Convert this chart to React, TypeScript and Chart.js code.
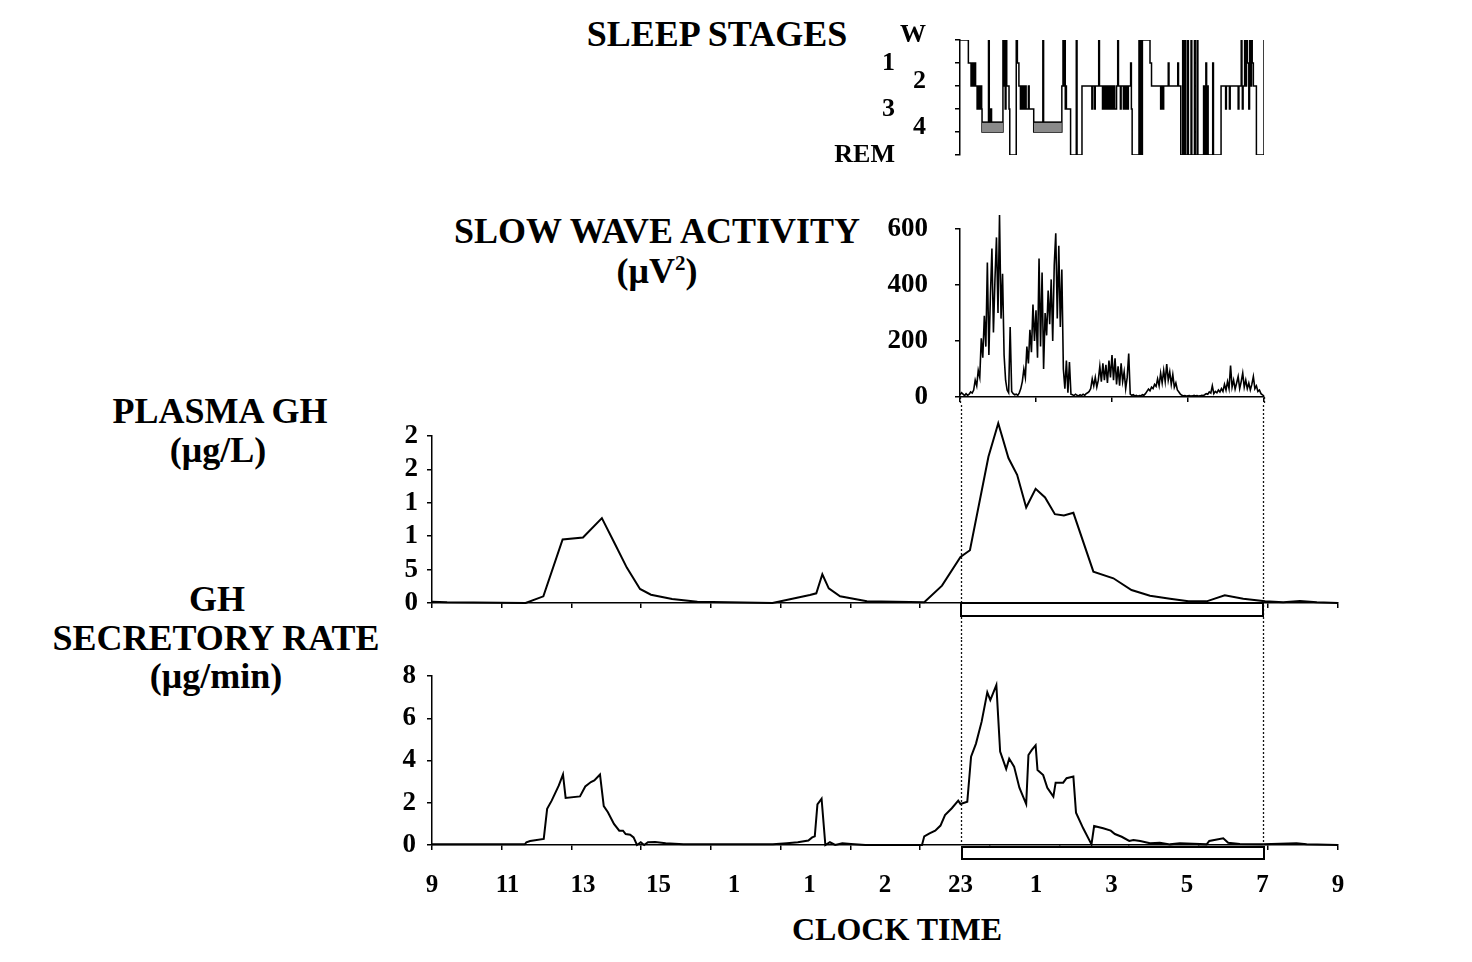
import React, { useEffect, useRef } from 'react';
import { Chart, registerables } from 'chart.js';

Chart.register(...registerables);

const SERIF = "'Liberation Serif', 'Times New Roman', Times, serif";

// time axis: hours elapsed since 09:00 of day 1 (0 = 09:00, 24 = 09:00 next day)
const clockTickTimes = [0, 2, 4, 6, 8, 10, 12, 14, 16, 18, 20, 22, 24];
const clockTickLabels = ['9', '11', '13', '15', '1', '1', '2', '23', '1', '3', '5', '7', '9'];
const panelTickTimes = [0, 1.85, 3.69, 5.54, 7.38, 9.23, 11.08, 12.92, 14.77, 16.62, 18.46, 20.31, 22.15, 24];
const sleepWindow = [14, 22]; // 23:00 -> 07:00

// ---- sleep stages (0 = W, 5 = REM) ----
const stageLabels = ['W', '1', '2', '3', '4', 'REM'];
const stageTicks = [0, 1, 2, 3, 4, 5];
const hypnoTimes = [
  14.0, 14.22, 14.29, 14.33, 14.35, 14.38, 14.41, 14.45, 14.47, 14.49, 14.51, 14.53, 14.55, 14.57, 14.58,
  14.75, 14.77, 14.8, 14.83, 15.13, 15.15, 15.17, 15.19, 15.21, 15.23, 15.29, 15.31, 15.48, 15.51, 15.55,
  15.59, 15.61, 15.64, 15.66, 15.68, 15.71, 15.74, 15.8, 15.82, 15.94, 16.18, 16.2, 16.68, 16.71, 16.73,
  16.75, 16.77, 16.78, 16.8, 16.91, 17.06, 17.08, 17.21, 17.47, 17.49, 17.54, 17.56, 17.65, 17.67, 17.75,
  17.77, 17.79, 17.81, 17.83, 17.85, 17.87, 17.89, 17.91, 17.93, 17.95, 17.97, 17.99, 18.01, 18.03, 18.05,
  18.07, 18.12, 18.15, 18.17, 18.22, 18.24, 18.3, 18.32, 18.36, 18.38, 18.41, 18.43, 18.49, 18.51, 18.53,
  18.71, 18.73, 18.76, 18.78, 18.8, 19.0, 19.04, 19.28, 19.3, 19.34, 19.36, 19.48, 19.5, 19.73, 19.75,
  19.81, 19.86, 19.88, 19.92, 19.94, 19.99, 20.01, 20.08, 20.1, 20.17, 20.19, 20.24, 20.26, 20.41, 20.43,
  20.47, 20.49, 20.51, 20.53, 20.65, 20.67, 20.87, 20.99, 21.01, 21.09, 21.11, 21.32, 21.34, 21.4, 21.42,
  21.43, 21.45, 21.49, 21.51, 21.54, 21.56, 21.6, 21.62, 21.64, 21.67, 21.69, 21.72, 21.8, 22.0,
];
const hypnoStages = [
  0, 1, 2, 1, 2, 1, 2, 3, 2, 3, 2, 3, 2, 3, 4,
  0, 4, 3, 4, 0, 2, 0, 3, 0, 2, 3, 5, 0, 1, 2,
  3, 2, 3, 2, 3, 2, 3, 2, 3, 4, 0, 4, 2, 0, 2,
  0, 3, 2, 3, 5, 0, 5, 2, 3, 2, 3, 2, 0, 2, 3,
  2, 3, 2, 3, 2, 3, 2, 3, 2, 3, 2, 3, 2, 3, 2,
  3, 2, 0, 2, 3, 2, 3, 2, 3, 2, 3, 2, 1, 3, 5,
  0, 5, 0, 5, 0, 1, 2, 3, 2, 3, 2, 1, 2, 1, 2,
  5, 0, 5, 0, 5, 0, 5, 0, 5, 0, 5, 0, 5, 2, 5,
  1, 5, 2, 5, 1, 5, 2, 3, 2, 3, 2, 3, 2, 0, 2,
  3, 2, 0, 2, 0, 1, 3, 0, 2, 0, 1, 2, 5, 0,
];
const stage4Boxes = [[14.58, 15.13], [15.94, 16.68]];
const stage4BoxTop = 3.57;

// ---- slow wave activity (uV^2), one value every 0.04 h from 23:00 ----
const swaStart = 14;
const swaStep = 0.04;
const swaValues = [
  8, 15, 10, 5, 12, 6, 10, 18, 14, 25, 60, 40, 95, 70, 210, 140, 290, 180, 480, 150,
  360, 530, 230, 420, 570, 300, 650, 280, 440, 150, 60, 25, 15, 250, 20, 12, 8, 10, 6, 15,
  30, 55, 100, 70, 180, 120, 240, 160, 330, 200, 310, 140, 495, 180, 445, 100, 300, 220, 380, 260,
  420, 200, 470, 585, 280, 540, 250, 455, 100, 30, 130, 15, 125, 10, 8, 5, 10, 6, 4, 8,
  5, 10, 6, 12, 15, 20, 30, 65, 40, 70, 35, 60, 110, 55, 120, 60, 115, 50, 130, 70,
  150, 60, 138, 45, 110, 40, 120, 55, 90, 30, 70, 155, 10, 6, 8, 4, 6, 3, 5, 4,
  8, 6, 12, 20, 28, 22, 35, 30, 45, 38, 65, 40, 85, 50, 95, 55, 118, 60, 90, 45,
  80, 35, 50, 25, 18, 10, 6, 4, 5, 3, 4, 5, 3, 4, 6, 4, 5, 3, 4, 6,
  5, 8, 12, 10, 18, 14, 40, 12, 20, 15, 25, 18, 30, 20, 45, 25, 55, 30, 112, 35,
  60, 28, 50, 73, 30, 55, 85, 35, 60, 30, 50, 25, 45, 73, 30, 40, 20, 25, 12, 8,
  3,
];
const swaTicks = [0, 200, 400, 600];

// ---- plasma GH ----
const plasmaTimes = [
  0, 0.4, 2.48, 2.95, 3.46, 4.0, 4.5, 4.85, 5.16, 5.51, 5.8, 6.36, 7.03, 9.02, 10.01, 10.18, 10.34,
  10.51, 10.81, 11.52, 13.04, 13.51, 14.0, 14.25, 14.74, 15.0, 15.27, 15.5, 15.74, 15.99, 16.24, 16.5,
  16.74, 16.99, 17.52, 18.05, 18.53, 19.02, 19.55, 20.04, 20.52, 21.0, 21.49, 22.07, 22.55, 22.99,
  23.44, 24,
];
const plasmaValues = [
  0.2, 0.1, 0, 1.0, 9.5, 9.8, 12.7, 8.8, 5.3, 2.1, 1.24, 0.6, 0.2, 0, 1.2, 1.45, 4.3,
  2.2, 1.0, 0.25, 0.1, 2.6, 6.9, 7.9, 21.9, 26.9, 21.7, 19.2, 14.3, 17.1, 15.8, 13.3,
  13.1, 13.5, 4.7, 3.7, 1.95, 1.1, 0.65, 0.25, 0.25, 1.15, 0.65, 0.25, 0.1, 0.3,
  0.1, 0,
];
const plasmaTickValues = [0, 5, 10, 15, 20, 25];
const plasmaTickLabels = ['0', '5', '1', '1', '2', '2'];

// ---- GH secretory rate ----
const secTimes = [
  0, 2.46, 2.5, 2.6, 2.96, 3.05, 3.17, 3.36, 3.47, 3.54, 3.92, 4.06, 4.21, 4.3, 4.45, 4.55, 4.66,
  4.82, 4.96, 5.06, 5.13, 5.25, 5.34, 5.43, 5.53, 5.62, 5.72, 5.91, 6.19, 6.66, 9.03, 9.4, 9.69,
  9.97, 10.07, 10.14, 10.21, 10.32, 10.42, 10.54, 10.68, 10.87, 11.1, 11.48, 12.98, 13.04, 13.18,
  13.33, 13.47, 13.59, 13.77, 13.94, 14.0, 14.18, 14.28, 14.41, 14.56, 14.71, 14.79, 14.95, 15.05,
  15.21, 15.29, 15.42, 15.56, 15.74, 15.8, 15.89, 15.99, 16.04, 16.19, 16.3, 16.46, 16.52, 16.72,
  16.81, 16.99, 17.06, 17.25, 17.47, 17.54, 17.78, 17.98, 18.09, 18.27, 18.47, 18.58, 18.76, 19.02,
  19.28, 19.55, 19.81, 20.52, 20.59, 20.96, 21.09, 21.4, 22.02, 22.9, 23.17, 24,
];
const secValues = [
  0.03, 0.03, 0.13, 0.19, 0.29, 1.71, 2.1, 2.82, 3.34, 2.23, 2.3, 2.77, 2.98, 3.06, 3.34, 1.84, 1.55,
  1.0, 0.68, 0.68, 0.52, 0.49, 0.36, 0, 0.13, 0, 0.13, 0.14, 0.08, 0.03, 0.03, 0.08, 0.13,
  0.21, 0.36, 0.41, 1.92, 2.19, 0, 0.13, 0, 0.08, 0.05, 0, 0, 0.41, 0.55,
  0.68, 0.92, 1.42, 1.74, 2.1, 1.94, 2.05, 4.18, 4.8, 5.84, 7.23, 6.86, 7.57, 4.42,
  3.6, 4.09, 3.71, 2.71, 1.94, 4.26, 4.5, 4.72, 3.55, 3.31, 2.71, 2.29, 2.95, 2.95,
  3.16, 3.24, 1.53, 0.79, 0.03, 0.9, 0.79, 0.68, 0.52, 0.39, 0.19, 0.24, 0.19, 0.08,
  0.11, 0.03, 0.08, 0.03, 0.19, 0.32, 0.11, 0.05, 0.03, 0.08, 0.03, 0,
];
const secTicks = [0, 2, 4, 6, 8];

// ---------------------------------------------------------------------------

const tickFont = (size: number) => ({ family: SERIF, weight: 'bold' as const, size });
const axisGrid = { drawOnChartArea: false, drawTicks: true, tickLength: 5, color: '#000', lineWidth: 1.5 };
const axisBorder = { color: '#000', width: 1.5 };

function fixSize(w?: number, h?: number) {
  return (scale: any) => {
    if (w !== undefined) scale.width = w;
    if (h !== undefined) scale.height = h;
    scale.paddingTop = 0;
    scale.paddingBottom = 0;
    scale.paddingLeft = 0;
    scale.paddingRight = 0;
  };
}

function setTicks(values: number[]) {
  return (scale: any) => {
    scale.ticks = values.map((v) => ({ value: v }));
  };
}

function dottedLines(mode: 'below' | 'full' | 'above') {
  return {
    id: 'dottedLines',
    afterDatasetsDraw(chart: any) {
      const { ctx, chartArea, height } = chart;
      const x = chart.scales.x;
      let y0 = 0;
      let y1 = height;
      if (mode === 'below') y0 = chartArea.bottom;
      if (mode === 'above') y1 = chartArea.bottom;
      ctx.save();
      ctx.setLineDash([2, 2]);
      ctx.lineWidth = 1.3;
      ctx.strokeStyle = '#111';
      for (const t of sleepWindow) {
        const px = Math.round(x.getPixelForValue(t)) + 0.5;
        ctx.beginPath();
        ctx.moveTo(px, y0);
        ctx.lineTo(px, y1);
        ctx.stroke();
      }
      ctx.restore();
    },
  };
}

function sleepBar(offset: number, h: number, dx: number) {
  return {
    id: 'sleepBar',
    afterDraw(chart: any) {
      const { ctx, chartArea } = chart;
      const x = chart.scales.x;
      const x0 = Math.round(x.getPixelForValue(sleepWindow[0])) + dx;
      const x1 = Math.round(x.getPixelForValue(sleepWindow[1])) + dx;
      const y0 = chartArea.bottom + offset;
      ctx.save();
      ctx.fillStyle = '#fff';
      ctx.fillRect(x0, y0, x1 - x0, h);
      ctx.strokeStyle = '#000';
      ctx.lineWidth = 2;
      ctx.strokeRect(x0, y0, x1 - x0, h);
      ctx.restore();
    },
  };
}

const baseOptions = (padding: any) => ({
  animation: false as const,
  responsive: false,
  maintainAspectRatio: false,
  events: [] as any[],
  layout: { padding },
  plugins: { legend: { display: false }, tooltip: { enabled: false } },
});

function sleepConfig(): any {
  const hypno = hypnoTimes.map((t, i) => ({ x: t, y: hypnoStages[i] }));
  const boxes = stage4Boxes.map((b) => ({
    data: [{ x: b[0], y: stage4BoxTop }, { x: b[1], y: stage4BoxTop }],
    borderColor: '#000',
    borderWidth: 1.5,
    backgroundColor: '#8a8a8a',
    fill: { value: 4 },
    pointRadius: 0,
  }));
  return {
    type: 'line',
    data: {
      datasets: [
        ...boxes,
        { data: hypno, stepped: true, borderColor: '#000', borderWidth: 1.5, pointRadius: 0, fill: false },
      ],
    },
    options: {
      ...baseOptions({ top: 25, right: 26, bottom: 10, left: 0 }),
      scales: {
        x: { type: 'linear', min: 14, max: 22, display: false },
        y: {
          type: 'linear', position: 'left', weight: 0, min: 0, max: 5, reverse: true,
          afterBuildTicks: setTicks(stageTicks),
          ticks: {
            autoSkip: false, padding: 29, labelOffset: -5, color: '#000', font: tickFont(26),
            callback: (_v: number, i: number) => (i % 2 === 0 ? stageLabels[i] : ''),
          },
          grid: axisGrid, border: axisBorder, afterFit: fixSize(60),
        },
        y2: {
          type: 'linear', position: 'left', weight: 1, min: 0, max: 5, reverse: true,
          afterBuildTicks: setTicks(stageTicks),
          ticks: {
            autoSkip: false, padding: 5, labelOffset: 0, color: '#000', font: tickFont(26),
            callback: (_v: number, i: number) => (i % 2 === 1 ? stageLabels[i] : ''),
          },
          grid: { display: false, drawTicks: false }, border: { display: false }, afterFit: fixSize(80),
        },
      },
    },
  };
}

function swaConfig(): any {
  const pts = swaValues.map((v, i) => ({ x: swaStart + i * swaStep, y: v }));
  return {
    type: 'line',
    data: { datasets: [{ data: pts, borderColor: '#000', borderWidth: 1.6, pointRadius: 0, clip: false }] },
    options: {
      ...baseOptions({ top: 34, right: 26, bottom: 2, left: 0 }),
      scales: {
        x: {
          type: 'linear', min: 14, max: 22, ticks: { display: false },
          afterBuildTicks: setTicks([14, 16, 18, 20, 22]),
          grid: axisGrid, border: axisBorder, afterFit: fixSize(undefined, 6),
        },
        y: {
          type: 'linear', min: 0, max: 600,
          afterBuildTicks: setTicks(swaTicks),
          ticks: { autoSkip: false, padding: 27, color: '#000', font: tickFont(27) },
          grid: axisGrid, border: axisBorder, afterFit: fixSize(100),
        },
      },
    },
    plugins: [dottedLines('below')],
  };
}

function plasmaConfig(): any {
  const pts = plasmaTimes.map((t, i) => ({ x: t, y: plasmaValues[i] }));
  return {
    type: 'line',
    data: { datasets: [{ data: pts, borderColor: '#000', borderWidth: 2, pointRadius: 0, clip: false }] },
    options: {
      ...baseOptions({ top: 31, right: 62, bottom: 29, left: 0 }),
      scales: {
        x: {
          type: 'linear', min: 0, max: 24, ticks: { display: false },
          afterBuildTicks: setTicks(panelTickTimes),
          grid: axisGrid, border: axisBorder, afterFit: fixSize(undefined, 8),
        },
        y: {
          type: 'linear', min: 0, max: 25,
          afterBuildTicks: setTicks(plasmaTickValues),
          ticks: {
            autoSkip: false, padding: 9, color: '#000', font: tickFont(27),
            callback: (_v: number, i: number) => plasmaTickLabels[i],
          },
          grid: axisGrid, border: axisBorder, afterFit: fixSize(432),
        },
      },
    },
    plugins: [dottedLines('full'), sleepBar(0, 13, 0)],
  };
}

function secConfig(): any {
  const pts = secTimes.map((t, i) => ({ x: t, y: secValues[i] }));
  return {
    type: 'line',
    data: { datasets: [{ data: pts, borderColor: '#000', borderWidth: 2, pointRadius: 0, clip: false }] },
    options: {
      ...baseOptions({ top: 36, right: 62, bottom: 0, left: 0 }),
      scales: {
        x: {
          type: 'linear', min: 0, max: 24, weight: 0, ticks: { display: false },
          afterBuildTicks: setTicks(panelTickTimes),
          grid: axisGrid, border: axisBorder, afterFit: fixSize(undefined, 8),
        },
        x2: {
          type: 'linear', position: 'bottom', min: 0, max: 24, weight: 1,
          afterBuildTicks: setTicks(clockTickTimes),
          ticks: {
            autoSkip: false, maxRotation: 0, padding: 18, color: '#000', font: tickFont(25),
            callback: (_v: number, i: number) => clockTickLabels[i],
          },
          grid: { display: false, drawTicks: false }, border: { display: false },
          afterFit: fixSize(undefined, 57),
        },
        y: {
          type: 'linear', min: 0, max: 8,
          afterBuildTicks: setTicks(secTicks),
          ticks: { autoSkip: false, padding: 11, color: '#000', font: tickFont(27) },
          grid: axisGrid, border: axisBorder, afterFit: fixSize(432),
        },
      },
    },
    plugins: [dottedLines('above'), sleepBar(2, 12, 1)],
  };
}

function ChartCanvas(props: { left: number; top: number; width: number; height: number; make: () => any }) {
  const ref = useRef<HTMLCanvasElement>(null);
  useEffect(() => {
    const chart = new Chart(ref.current as HTMLCanvasElement, props.make());
    return () => chart.destroy();
  }, []);
  return (
    <canvas
      ref={ref}
      width={props.width}
      height={props.height}
      style={{ position: 'absolute', left: props.left, top: props.top, width: props.width, height: props.height }}
    />
  );
}

function Label(props: { x: number; top: number; size?: number; children: React.ReactNode }) {
  const size = props.size ?? 36;
  return (
    <div
      style={{
        position: 'absolute',
        left: props.x,
        top: props.top,
        transform: 'translateX(-50%)',
        fontFamily: SERIF,
        fontWeight: 'bold',
        fontSize: size,
        lineHeight: `${size}px`,
        whiteSpace: 'nowrap',
        color: '#000',
      }}
    >
      {props.children}
    </div>
  );
}

export default function App() {
  return (
    <div style={{ position: 'absolute', left: 0, top: 0, width: 1472, height: 962, background: '#fff', overflow: 'hidden' }}>
      <Label x={717} top={16}>SLEEP STAGES</Label>
      <Label x={657} top={213}>SLOW WAVE ACTIVITY</Label>
      <Label x={657} top={253}>
        (μV<sup style={{ fontSize: 21, lineHeight: 0 }}>2</sup>)
      </Label>
      <Label x={220} top={393}>PLASMA GH</Label>
      <Label x={218} top={432}>(μg/L)</Label>
      <Label x={217} top={581}>GH</Label>
      <Label x={216} top={620}>SECRETORY RATE</Label>
      <Label x={216} top={658}>(μg/min)</Label>
      <Label x={897} top={913} size={32}>CLOCK TIME</Label>

      <ChartCanvas left={820} top={15} width={470} height={150} make={sleepConfig} />
      <ChartCanvas left={860} top={195} width={430} height={210} make={swaConfig} />
      <ChartCanvas left={0} top={405} width={1400} height={235} make={plasmaConfig} />
      <ChartCanvas left={0} top={640} width={1400} height={270} make={secConfig} />
    </div>
  );
}
